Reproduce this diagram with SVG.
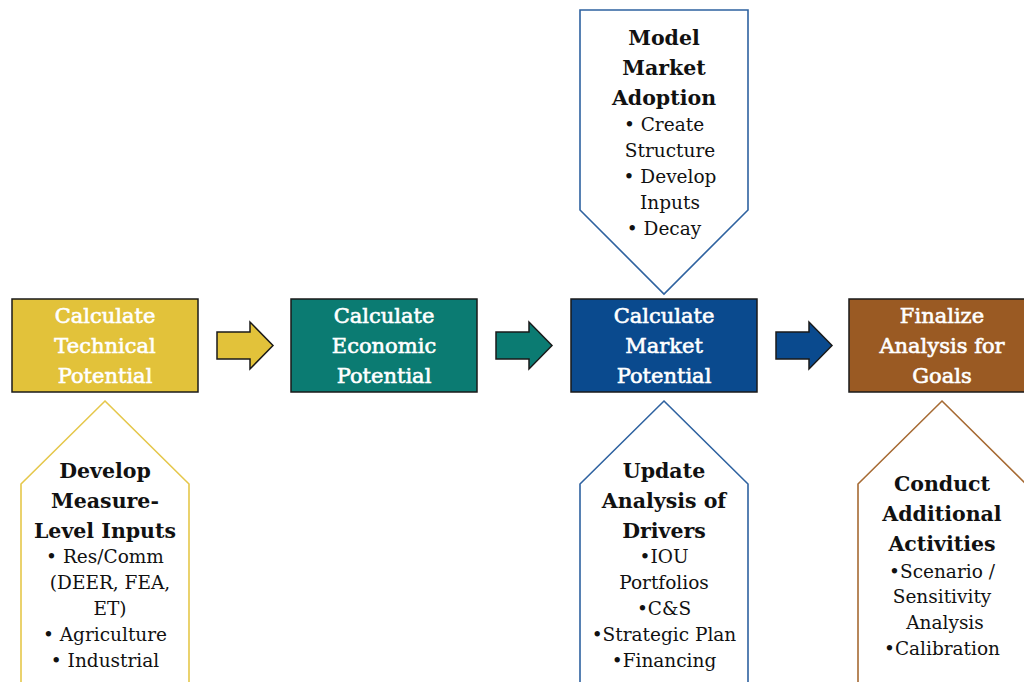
<svg xmlns="http://www.w3.org/2000/svg" width="1024" height="682" viewBox="0 0 1024 682">
<style>
.box{stroke:#1a1a1a;stroke-width:1.5}
.bt{font-family:"DejaVu Serif","Liberation Serif",serif;font-size:21px;fill:#ffffff;text-anchor:middle;stroke:#ffffff;stroke-width:0.6}
.tt{font-family:"DejaVu Serif","Liberation Serif",serif;font-size:20.5px;font-weight:bold;fill:#111111;text-anchor:middle}
.bd{font-family:"DejaVu Serif","Liberation Serif",serif;font-size:18.5px;fill:#111111;text-anchor:middle}
.pent{fill:#ffffff;stroke-width:1.6}
.arr{stroke:#1a1a1a;stroke-width:1.5;stroke-linejoin:miter}
</style>
<rect width="1024" height="682" fill="#ffffff"/>

<g id="tech">
<rect class="box" x="12" y="299" width="186" height="93" fill="#E2C23A"/>
<text class="bt" x="105" y="323">Calculate</text>
<text class="bt" x="105" y="353">Technical</text>
<text class="bt" x="105" y="383">Potential</text>
</g>
<g id="econ">
<rect class="box" x="291" y="299" width="186" height="93" fill="#0B7B72"/>
<text class="bt" x="384" y="323">Calculate</text>
<text class="bt" x="384" y="353">Economic</text>
<text class="bt" x="384" y="383">Potential</text>
</g>
<g id="market">
<rect class="box" x="571" y="299" width="186" height="93" fill="#0A4A8E"/>
<text class="bt" x="664" y="323">Calculate</text>
<text class="bt" x="664" y="353">Market</text>
<text class="bt" x="664" y="383">Potential</text>
</g>
<g id="finalize">
<rect class="box" x="849" y="299" width="190" height="93" fill="#9A5A23"/>
<text class="bt" x="942" y="323">Finalize</text>
<text class="bt" x="942" y="353">Analysis for</text>
<text class="bt" x="942" y="383">Goals</text>
</g>

<g id="adoption">
<polygon class="pent" stroke="#2E62A0" points="580,10 748,10 748,210 664,294 580,210"/>
<text class="tt" x="664" y="45">Model</text>
<text class="tt" x="664" y="75">Market</text>
<text class="tt" x="664" y="105">Adoption</text>
<text class="bd" x="664" y="131">• Create</text>
<text class="bd" x="670" y="157">Structure</text>
<text class="bd" x="670" y="183">• Develop</text>
<text class="bd" x="670" y="209">Inputs</text>
<text class="bd" x="664" y="235">• Decay</text>
</g>

<g id="measure">
<polygon class="pent" stroke="#E5C74A" points="105,401 189,484 189,690 21,690 21,484"/>
<text class="tt" x="105" y="478">Develop</text>
<text class="tt" x="105" y="508">Measure-</text>
<text class="tt" x="105" y="538">Level Inputs</text>
<text class="bd" x="105" y="563">• Res/Comm</text>
<text class="bd" x="110" y="589">(DEER, FEA,</text>
<text class="bd" x="110" y="615">ET)</text>
<text class="bd" x="105" y="641">• Agriculture</text>
<text class="bd" x="105" y="667">• Industrial</text>
</g>

<g id="drivers">
<polygon class="pent" stroke="#2E62A0" points="664,401 748,484 748,690 580,690 580,484"/>
<text class="tt" x="664" y="478">Update</text>
<text class="tt" x="664" y="508">Analysis of</text>
<text class="tt" x="664" y="538">Drivers</text>
<text class="bd" x="664" y="563">•IOU</text>
<text class="bd" x="664" y="589">Portfolios</text>
<text class="bd" x="664" y="615">•C&amp;S</text>
<text class="bd" x="664" y="641">•Strategic Plan</text>
<text class="bd" x="664" y="667">•Financing</text>
</g>

<g id="activities">
<polygon class="pent" stroke="#A66A33" points="942,401 1026,484 1026,690 858,690 858,484"/>
<text class="tt" x="942" y="491">Conduct</text>
<text class="tt" x="942" y="521">Additional</text>
<text class="tt" x="942" y="551">Activities</text>
<text class="bd" x="942" y="578">•Scenario /</text>
<text class="bd" x="942" y="603">Sensitivity</text>
<text class="bd" x="945" y="629">Analysis</text>
<text class="bd" x="942" y="655">•Calibration</text>
</g>

<g id="connectors">
<polygon class="arr" fill="#E2C23A" points="217,332 250,332 250,322 273,345.5 250,369 250,359 217,359"/>
<polygon class="arr" fill="#0B7B72" points="496,332 529,332 529,322 552,345.5 529,369 529,359 496,359"/>
<polygon class="arr" fill="#0A4A8E" points="776,332 809,332 809,322 832,345.5 809,369 809,359 776,359"/>
</g>
</svg>
